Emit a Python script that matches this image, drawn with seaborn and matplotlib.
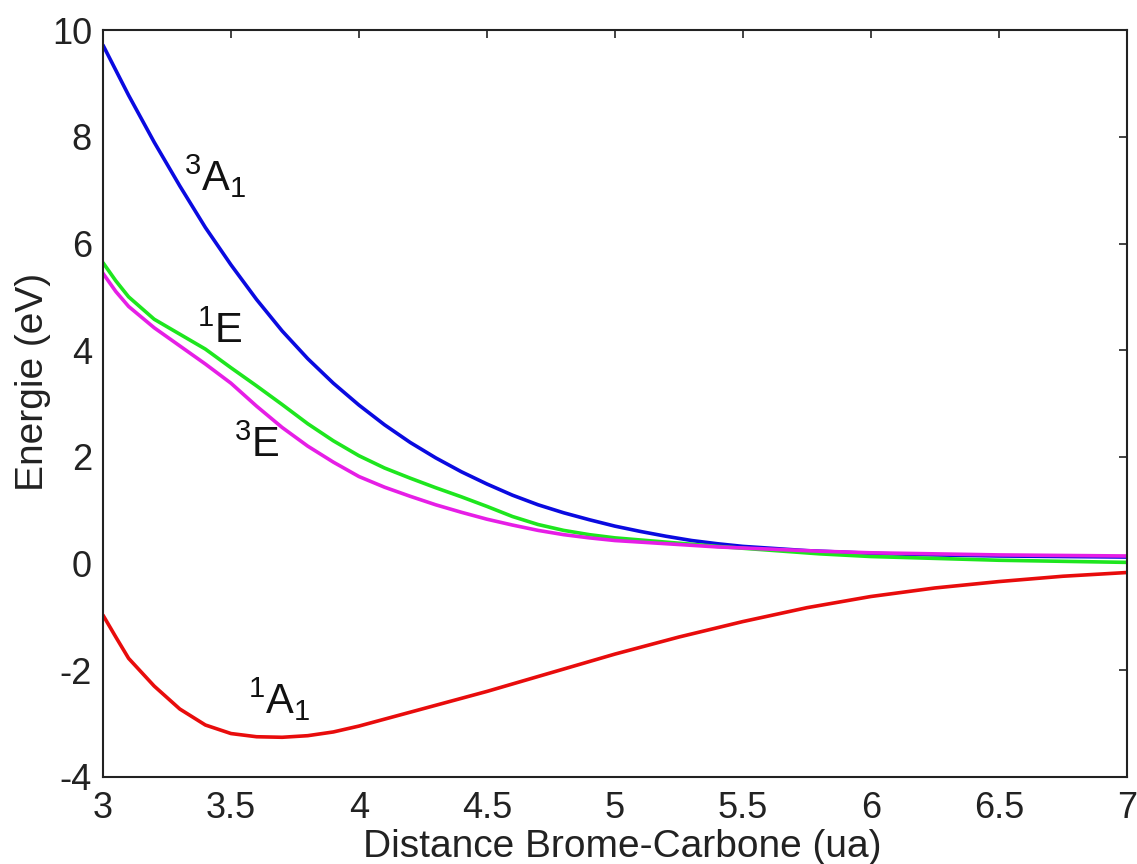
import numpy as np
import pandas as pd
import matplotlib
matplotlib.use("Agg")
import matplotlib.pyplot as plt
import seaborn as sns

# ---- data ----
x_3A1 = [3.0, 3.1, 3.2, 3.3, 3.4, 3.5, 3.6, 3.7, 3.8, 3.9, 4.0, 4.1, 4.2, 4.3, 4.4, 4.5, 4.6, 4.7, 4.8, 4.9, 5.0, 5.1, 5.2, 5.3, 5.4, 5.5, 5.75, 6.0, 6.25, 6.5, 6.75, 7.0]
y_3A1 = [9.72, 8.78, 7.9, 7.08, 6.3, 5.6, 4.95, 4.36, 3.84, 3.38, 2.97, 2.6, 2.27, 1.98, 1.72, 1.49, 1.28, 1.1, 0.95, 0.82, 0.7, 0.6, 0.51, 0.43, 0.37, 0.32, 0.24, 0.19, 0.16, 0.14, 0.13, 0.12]

x_1E = [3.0, 3.05, 3.1, 3.2, 3.3, 3.4, 3.5, 3.6, 3.7, 3.8, 3.9, 4.0, 4.1, 4.2, 4.3, 4.4, 4.5, 4.6, 4.7, 4.8, 4.9, 5.0, 5.2, 5.4, 5.6, 5.8, 6.0, 6.5, 7.0]
y_1E = [5.64, 5.3, 5.0, 4.58, 4.3, 4.02, 3.67, 3.33, 2.98, 2.62, 2.3, 2.02, 1.79, 1.6, 1.42, 1.25, 1.07, 0.88, 0.73, 0.62, 0.54, 0.48, 0.4, 0.32, 0.25, 0.18, 0.13, 0.06, 0.02]

x_3E = [3.0, 3.05, 3.1, 3.2, 3.3, 3.4, 3.5, 3.6, 3.7, 3.8, 3.9, 4.0, 4.1, 4.2, 4.3, 4.4, 4.5, 4.6, 4.7, 4.8, 4.9, 5.0, 5.2, 5.4, 5.6, 5.8, 6.0, 6.5, 7.0]
y_3E = [5.44, 5.1, 4.82, 4.42, 4.08, 3.74, 3.38, 2.95, 2.55, 2.2, 1.9, 1.63, 1.43, 1.26, 1.1, 0.96, 0.83, 0.72, 0.62, 0.54, 0.48, 0.43, 0.37, 0.31, 0.27, 0.23, 0.2, 0.16, 0.14]

x_1A1 = [3.0, 3.05, 3.1, 3.2, 3.3, 3.4, 3.5, 3.6, 3.7, 3.8, 3.9, 4.0, 4.1, 4.2, 4.3, 4.4, 4.5, 4.6, 4.7, 4.8, 4.9, 5.0, 5.25, 5.5, 5.75, 6.0, 6.25, 6.5, 6.75, 7.0]
y_1A1 = [-0.97, -1.38, -1.78, -2.3, -2.73, -3.03, -3.19, -3.25, -3.26, -3.23, -3.16, -3.05, -2.92, -2.79, -2.66, -2.53, -2.4, -2.26, -2.12, -1.98, -1.84, -1.7, -1.38, -1.09, -0.83, -0.62, -0.46, -0.34, -0.24, -0.17]

state_names = ["3A1", "1E", "3E", "1A1"]
state_labels = [r"$^{3}\mathrm{A}_{1}$", r"$^{1}\mathrm{E}$", r"$^{3}\mathrm{E}$", r"$^{1}\mathrm{A}_{1}$"]
state_colors = ["#0a0ae0", "#1ee61e", "#e61ee6", "#e80c0c"]
label_xy = [(3.44, 7.25), (3.455, 4.35), (3.6, 2.2), (3.69, -2.55)]

x_ticks = [3, 3.5, 4, 4.5, 5, 5.5, 6, 6.5, 7]
x_ticklabels = ["3", "3.5", "4", "4.5", "5", "5.5", "6", "6.5", "7"]
y_ticks = [-4, -2, 0, 2, 4, 6, 8, 10]
y_ticklabels = ["-4", "-2", "0", "2", "4", "6", "8", "10"]

df = pd.concat([
    pd.DataFrame({"x": x_3A1, "y": y_3A1, "state": "3A1"}),
    pd.DataFrame({"x": x_1E, "y": y_1E, "state": "1E"}),
    pd.DataFrame({"x": x_3E, "y": y_3E, "state": "3E"}),
    pd.DataFrame({"x": x_1A1, "y": y_1A1, "state": "1A1"}),
], ignore_index=True)

sns.set_style("white")
plt.rcParams["font.family"] = ["Liberation Sans", "DejaVu Sans"]
plt.rcParams["mathtext.fontset"] = "custom"
plt.rcParams["mathtext.rm"] = "Liberation Sans"
plt.rcParams["mathtext.it"] = "Liberation Sans:italic"
plt.rcParams["axes.unicode_minus"] = False

fig = plt.figure(figsize=(11.37, 8.64), dpi=100)
ax = fig.add_axes([0.0906, 0.101, 0.9004, 0.864])

sns.lineplot(data=df, x="x", y="y", hue="state", hue_order=state_names,
             palette=dict(zip(state_names, state_colors)), linewidth=2.6,
             legend=False, ax=ax, sort=True, estimator=None)
for line in ax.get_lines():
    line.set_solid_joinstyle("round")

for (tx, ty), lab in zip(label_xy, state_labels):
    ax.text(tx, ty, lab, fontsize=30, ha="center", va="center", color="#111111")

ax.set_xlim(3, 7)
ax.set_ylim(-4, 10)
ax.set_xticks(x_ticks)
ax.set_xticklabels(x_ticklabels)
ax.set_yticks(y_ticks)
ax.set_yticklabels(y_ticklabels)
ax.tick_params(direction="in", length=6, width=1.2, top=True, right=True,
               labelsize=26, colors="#222222")
ax.tick_params(axis="x", pad=10)
ax.tick_params(axis="y", pad=8)
for s in ax.spines.values():
    s.set_color("#222222")
    s.set_linewidth(1.5)
ax.set_xlabel("Distance Brome-Carbone (ua)", fontsize=28, color="#222222")
ax.set_ylabel("Energie (eV)", fontsize=28, color="#222222")
ax.xaxis.set_label_coords(0.507, -0.070)
ax.yaxis.set_label_coords(-0.051, 0.529)

fig.savefig("out.png", dpi=100)
